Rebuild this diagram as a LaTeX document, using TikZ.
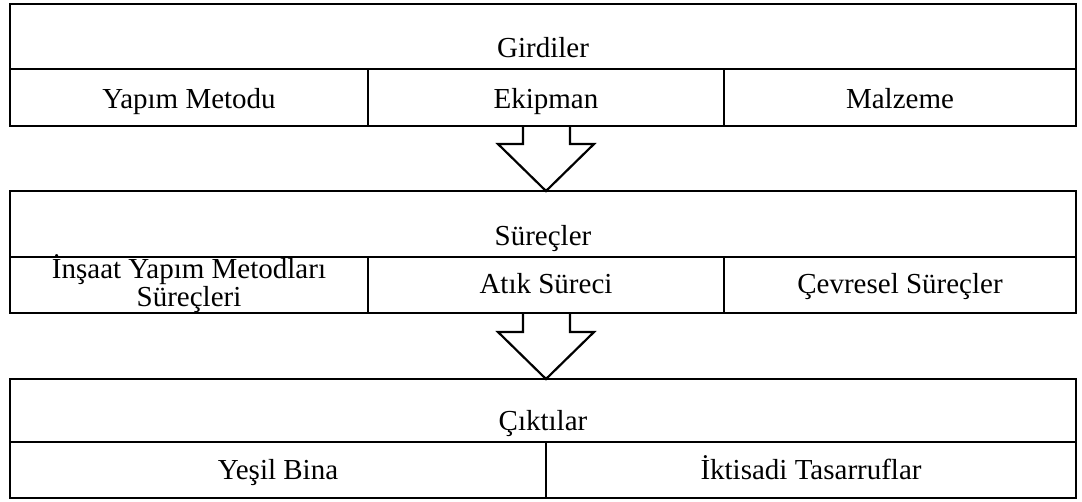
\documentclass[tikz,border=0pt]{standalone}
\usepackage{fontspec}
\setmainfont{Liberation Serif}
\usetikzlibrary{calc,fit}
\tikzset{
  frame/.style={draw, line width=2.8pt, inner sep=0pt, outer sep=0pt},
  cell/.style={draw, line width=2.2pt, inner sep=0pt, outer sep=0pt},
  lbl/.style={anchor=base, inner sep=0pt, align=center,
              font=\fontsize{29}{26}\selectfont},
  block/.style={draw, line width=2.2pt, fill=white, line join=miter}
}
\begin{document}
\begin{tikzpicture}[x=1pt, y=-1pt]
  \useasboundingbox (0,0) rectangle (1082,501);

  % block arrows between the three tiers
  \coordinate (a1) at (546,126);
  \coordinate (a2) at (546,313);
  \draw[block] ($(a1)+(-23,0)$) -- ++(0,18) -- ++(-25,0) -- ($(a1)+(0,65)$)
               -- ($(a1)+(48,18)$) -- ++(-24,0) -- ($(a1)+(24,0)$);
  \draw[block] ($(a2)+(-23,0)$) -- ++(0,19) -- ++(-25,0) -- ($(a2)+(0,66)$)
               -- ($(a2)+(48,19)$) -- ++(-24,0) -- ($(a2)+(24,0)$);

  % tier 1: inputs
  \node[cell, fit={(10,4) (1076,69)}] (in) {};
  \node[cell, fit={(10,69) (368,126)}] (in1) {};
  \node[cell, fit={(368,69) (724,126)}] (in2) {};
  \node[cell, fit={(724,69) (1076,126)}] (in3) {};
  \node[frame, fit={(10,4) (1076,126)}] (inbox) {};
  \node[lbl] (tin) at ($(in.south)+(0,-12)$) {Girdiler};
  \node[lbl] (tin1) at ($(in1.south)+(0,-18)$) {Yapım Metodu};
  \node[lbl] (tin2) at ($(in2.south)+(0,-18)$) {Ekipman};
  \node[lbl] (tin3) at ($(in3.south)+(0,-18)$) {Malzeme};

  % tier 2: processes
  \node[cell, fit={(10,191) (1076,257)}] (pr) {};
  \node[cell, fit={(10,257) (368,313)}] (pr1) {};
  \node[cell, fit={(368,257) (724,313)}] (pr2) {};
  \node[cell, fit={(724,257) (1076,313)}] (pr3) {};
  \node[frame, fit={(10,191) (1076,313)}] (prbox) {};
  \node[lbl] (tpr) at ($(pr.south)+(0,-12)$) {Süreçler};
  \node[lbl] (tpr1) at ($(pr1.north)+(0,49)$) {İnşaat Yapım Metodları\\Süreçleri};
  \node[lbl] (tpr2) at ($(pr2.south)+(0,-20)$) {Atık Süreci};
  \node[lbl] (tpr3) at ($(pr3.south)+(0,-20)$) {Çevresel Süreçler};

  % tier 3: outputs
  \node[cell, fit={(10,379) (1076,442)}] (out) {};
  \node[cell, fit={(10,442) (546,498)}] (out1) {};
  \node[cell, fit={(546,442) (1076,498)}] (out2) {};
  \node[frame, fit={(10,379) (1076,498)}] (outbox) {};
  \node[lbl] (tout) at ($(out.south)+(0,-12)$) {Çıktılar};
  \node[lbl] (tout1) at ($(out1.south)+(0,-19)$) {Yeşil Bina};
  \node[lbl] (tout2) at ($(out2.south)+(0,-19)$) {İktisadi Tasarruflar};
\end{tikzpicture}
\end{document}
